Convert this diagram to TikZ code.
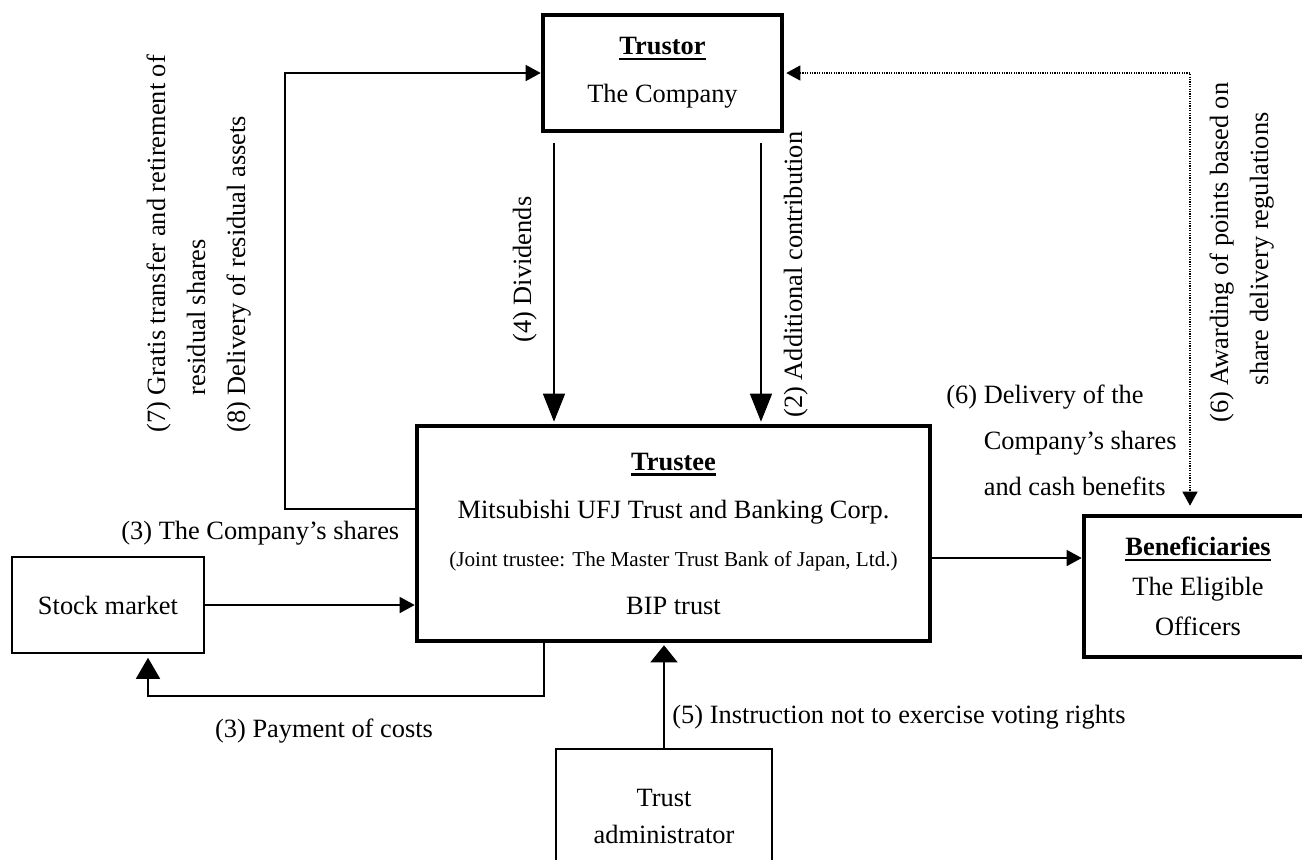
\documentclass[tikz,border=0pt]{standalone}
\usepackage{fontspec}
\setmainfont{Liberation Serif}
\usepackage{tikz}
\usetikzlibrary{arrows.meta, positioning}
\newcommand{\boxhead}[1]{\setbox0\hbox{\bfseries #1}\rlap{\rule[-2.8pt]{\wd0}{1.2pt}}\box0}

\begin{document}
\begin{tikzpicture}[
    x=0.5pt, y=-0.5pt,
    font=\fontsize{13.2}{24}\selectfont,
    party/.style={draw, line width=2.3pt, align=center, inner sep=0pt},
    plainbox/.style={draw, line width=0.75pt, align=center, inner sep=0pt},
    flow/.style={line width=0.75pt, -{Triangle[width=8pt, length=7.5pt]}},
    bigflow/.style={line width=0.75pt, -{Triangle[width=11pt, length=14pt]}},
    award/.style={line width=0.6pt, dash pattern=on 0.6pt off 0.6pt,
                  {Triangle[width=7.5pt, length=7pt]}-{Triangle[width=7.5pt, length=7pt]}},
    sidelabel/.style={rotate=90, anchor=base west, align=left, inner sep=0pt}
]
    \useasboundingbox (0,0) rectangle (1302,859);

    \node[party, minimum width=119.5pt, minimum height=58pt] (trustor) at (662.5,73)
        {\boxhead{Trustor}\\The Company};
    \node[party, minimum width=256.5pt, minimum height=107.5pt] (trustee) at (673.5,533.5)
        {\boxhead{Trustee}\\Mitsubishi UFJ Trust and Banking Corp.\\
         {\fontsize{10.6}{24}\selectfont (Joint trustee: The Master Trust Bank of Japan, Ltd.)}\\BIP trust};
    \node[party, minimum width=114pt, minimum height=70.5pt, font=\fontsize{13.2}{20}\selectfont] (benef) at (1198,586.5)
        {\boxhead{Beneficiaries}\\The Eligible\\Officers};
    \node[plainbox, minimum width=96pt, minimum height=48pt] (stock) at (108,605) {Stock market};
    \node[plainbox, minimum width=108pt, minimum height=67.5pt, font=\fontsize{13.2}{18.5}\selectfont] (admin) at (664,816.5)
        {Trust\\administrator};

    \coordinate (divtop) at (554,143);
    \coordinate (contop) at (761,143);
    \coordinate (resid) at (285,509);
    \coordinate (awardx) at (1190,0);
    \coordinate (delivy) at (0,558);
    \coordinate (paydown) at (544,696);
    \coordinate (payup) at (148,696);

    \draw[bigflow, shorten >=1pt] (divtop) -- (divtop |- trustee.north);
    \draw[bigflow, shorten >=1pt] (contop) -- (contop |- trustee.north);
    \draw[flow] (resid -| trustee.west) -- (resid) |- (trustor.west);
    \draw[award, shorten <=1pt, shorten >=4pt] (trustor.east) -| (awardx |- benef.north);
    \draw[flow] (stock.east) -- (stock.east -| trustee.west);
    \draw[flow] (delivy -| trustee.east) -- (delivy -| benef.west);
    \draw[line width=0.75pt, -{Triangle[width=12pt, length=10.5pt]}, shorten >=2pt]
        (paydown |- trustee.south) -- (paydown) -- (payup) -- (payup |- stock.south);
    \draw[line width=0.75pt, -{Triangle[width=13.5pt, length=8.5pt]}, shorten >=1pt]
        (admin.north) -- (admin.north |- trustee.south);

    \node[sidelabel] (divlabel) at (531,343) {(4) Dividends};
    \node[sidelabel] (conlabel) at (802,418) {(2) Additional contribution};
    \node[sidelabel, font=\fontsize{13.2}{20}\selectfont] (residlabel) at (245,433)
        {(7) Gratis transfer and retirement of\\\phantom{(7)~}residual shares\\(8) Delivery of residual assets};
    \node[sidelabel, font=\fontsize{13.2}{20}\selectfont] (awardlabel) at (1268,423)
        {(6) Awarding of points based on\\\phantom{(6)~}share delivery regulations};
    \node[anchor=base west, align=left, inner sep=0pt, font=\fontsize{13.2}{23}\selectfont] (delivlabel) at (946,495)
        {(6) Delivery of the\\\phantom{(6)~}Company’s shares\\\phantom{(6)~}and cash benefits};
    \node[anchor=west, inner sep=0pt] (shareslabel) at (121,533) {(3) The Company’s shares};
    \node[inner sep=0pt] (costlabel) at (324,731) {(3) Payment of costs};
    \node[anchor=west, inner sep=0pt] (votelabel) at (672,717) {(5) Instruction not to exercise voting rights};
\end{tikzpicture}
\end{document}
